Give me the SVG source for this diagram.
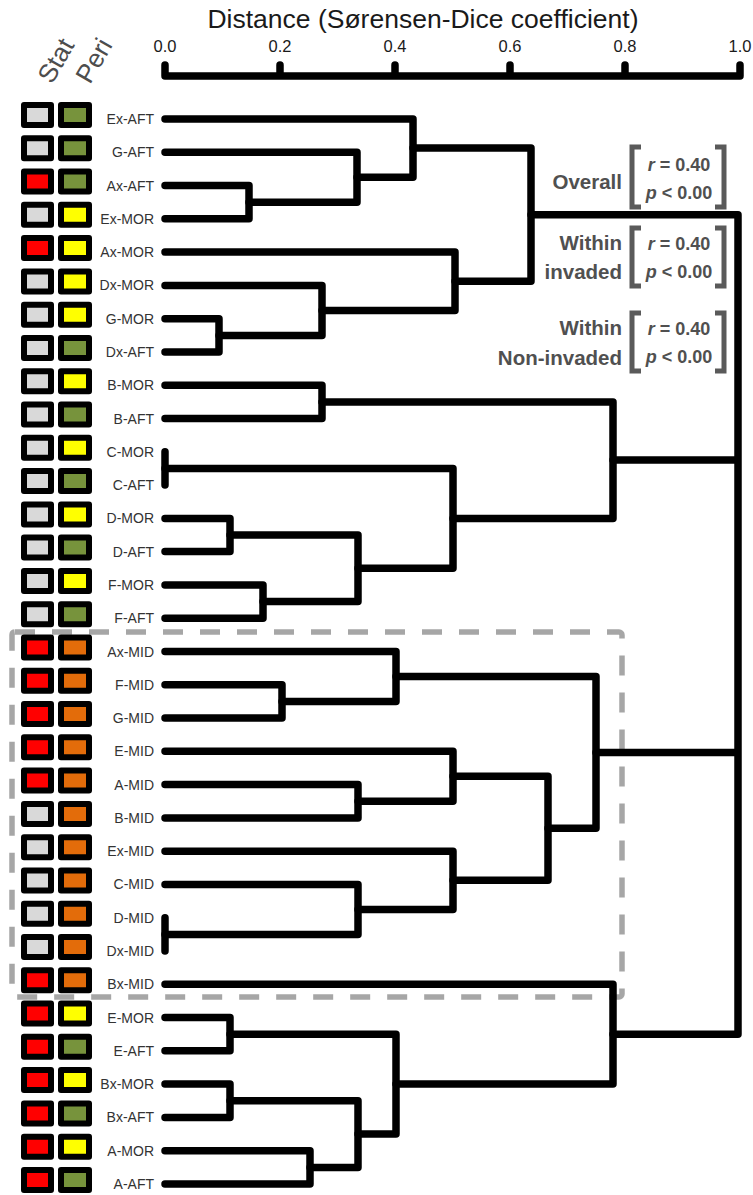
<svg xmlns="http://www.w3.org/2000/svg" width="753" height="1195" viewBox="0 0 753 1195">
<style>
.c{fill:none;stroke:#000;stroke-width:7.5;stroke-linecap:round;stroke-linejoin:round}
.b{stroke:#000;stroke-width:6;stroke-linejoin:round}
.gy{fill:#d9d9d9}.rd{fill:#ff0000}.gn{fill:#77933c}.yl{fill:#ffff00}.or{fill:#e36c0a}
.lb{font-family:"Liberation Sans",Arial,sans-serif;font-size:14px;fill:#333;text-anchor:end}
.ax{font-family:"Liberation Sans",Arial,sans-serif;font-size:16.5px;fill:#1a1a1a;text-anchor:middle}
.hd{font-family:"Liberation Sans",Arial,sans-serif;font-size:26px;fill:#4d4d4d}
.st{font-family:"Liberation Sans",Arial,sans-serif;font-size:20.5px;font-weight:bold;fill:#505050;text-anchor:end}
.sv{font-family:"Liberation Sans",Arial,sans-serif;font-size:18px;font-weight:bold;fill:#505050;text-anchor:middle}
.br{fill:none;stroke:#5a5a5a;stroke-width:5}
</style>
<rect id="mid-box" x="12" y="632" width="610" height="365" rx="3" fill="none" stroke="#a6a6a6" stroke-width="5.5" stroke-dasharray="20 17"/>
<g id="axis">
<text x="423" y="28" font-family="Liberation Sans, Arial, sans-serif" font-size="26.5" fill="#1a1a1a" text-anchor="middle">Distance (Sørensen-Dice coefficient)</text>
<text class="ax" x="165" y="52">0.0</text><text class="ax" x="280" y="52">0.2</text><text class="ax" x="395" y="52">0.4</text><text class="ax" x="510" y="52">0.6</text><text class="ax" x="625" y="52">0.8</text><text class="ax" x="740" y="52">1.0</text>
<path class="c" d="M165 65V76H740V65M280 65V76M395 65V76M510 65V76M625 65V76"/>
</g>
<g id="headers">
<text class="hd" transform="translate(52,85) rotate(-60)">Stat</text>
<text class="hd" transform="translate(90,85) rotate(-60)">Peri</text>
</g>
<g id="connectors">
<path class="c" d="M165 185.6H249V218.8H165"/>
<path class="c" d="M165 152.3H357V202.2H249"/>
<path class="c" d="M165 119H413V177.3H357"/>
<path class="c" d="M165 318.7H219V352H165"/>
<path class="c" d="M165 285.4H322V335.4H219"/>
<path class="c" d="M165 252.1H455V310.4H322"/>
<path class="c" d="M413 148.1H531V281.3H455"/>
<path class="c" d="M165 385.2H322V418.5H165"/>
<path class="c" d="M165 451.8V485.1"/>
<path class="c" d="M165 518.4H230V551.6H165"/>
<path class="c" d="M165 584.9H263V618.2H165"/>
<path class="c" d="M230 535H358V601.6H263"/>
<path class="c" d="M165 468.5H453V568.3H358"/>
<path class="c" d="M322 401.9H613V518.4H453"/>
<path class="c" d="M165 684.8H282V718H165"/>
<path class="c" d="M165 651.5H396V701.4H282"/>
<path class="c" d="M165 784.6H358V817.9H165"/>
<path class="c" d="M165 751.3H453V801.3H358"/>
<path class="c" d="M165 917.7V951"/>
<path class="c" d="M165 884.4H358V934.4H165"/>
<path class="c" d="M165 851.2H453V909.4H358"/>
<path class="c" d="M453 776.3H548V880.3H453"/>
<path class="c" d="M396 676.5H596V828.3H548"/>
<path class="c" d="M165 1017.6H230V1050.8H165"/>
<path class="c" d="M165 1084.1H230V1117.4H165"/>
<path class="c" d="M165 1150.7H310V1184H165"/>
<path class="c" d="M230 1100.8H358V1167.4H310"/>
<path class="c" d="M230 1034.2H396V1134.1H358"/>
<path class="c" d="M165 984.3H613V1084.1H396"/>
<path class="c" d="M531 214.7H738V1034.2H613M613 460.1H738M596 752.4H738"/>
</g>
<g id="leaf-Ex-AFT"><rect class="b gy" x="24" y="105" width="27" height="20"/><rect class="b gn" x="61" y="105" width="28" height="20"/><text class="lb" x="154" y="124">Ex-AFT</text></g>
<g id="leaf-G-AFT"><rect class="b gy" x="24" y="138.3" width="27" height="20"/><rect class="b gn" x="61" y="138.3" width="28" height="20"/><text class="lb" x="154" y="157.3">G-AFT</text></g>
<g id="leaf-Ax-AFT"><rect class="b rd" x="24" y="171.6" width="27" height="20"/><rect class="b gn" x="61" y="171.6" width="28" height="20"/><text class="lb" x="154" y="190.6">Ax-AFT</text></g>
<g id="leaf-Ex-MOR"><rect class="b gy" x="24" y="204.8" width="27" height="20"/><rect class="b yl" x="61" y="204.8" width="28" height="20"/><text class="lb" x="154" y="223.8">Ex-MOR</text></g>
<g id="leaf-Ax-MOR"><rect class="b rd" x="24" y="238.1" width="27" height="20"/><rect class="b yl" x="61" y="238.1" width="28" height="20"/><text class="lb" x="154" y="257.1">Ax-MOR</text></g>
<g id="leaf-Dx-MOR"><rect class="b gy" x="24" y="271.4" width="27" height="20"/><rect class="b yl" x="61" y="271.4" width="28" height="20"/><text class="lb" x="154" y="290.4">Dx-MOR</text></g>
<g id="leaf-G-MOR"><rect class="b gy" x="24" y="304.7" width="27" height="20"/><rect class="b yl" x="61" y="304.7" width="28" height="20"/><text class="lb" x="154" y="323.7">G-MOR</text></g>
<g id="leaf-Dx-AFT"><rect class="b gy" x="24" y="338" width="27" height="20"/><rect class="b gn" x="61" y="338" width="28" height="20"/><text class="lb" x="154" y="357">Dx-AFT</text></g>
<g id="leaf-B-MOR"><rect class="b gy" x="24" y="371.2" width="27" height="20"/><rect class="b yl" x="61" y="371.2" width="28" height="20"/><text class="lb" x="154" y="390.2">B-MOR</text></g>
<g id="leaf-B-AFT"><rect class="b gy" x="24" y="404.5" width="27" height="20"/><rect class="b gn" x="61" y="404.5" width="28" height="20"/><text class="lb" x="154" y="423.5">B-AFT</text></g>
<g id="leaf-C-MOR"><rect class="b gy" x="24" y="437.8" width="27" height="20"/><rect class="b yl" x="61" y="437.8" width="28" height="20"/><text class="lb" x="154" y="456.8">C-MOR</text></g>
<g id="leaf-C-AFT"><rect class="b gy" x="24" y="471.1" width="27" height="20"/><rect class="b gn" x="61" y="471.1" width="28" height="20"/><text class="lb" x="154" y="490.1">C-AFT</text></g>
<g id="leaf-D-MOR"><rect class="b gy" x="24" y="504.4" width="27" height="20"/><rect class="b yl" x="61" y="504.4" width="28" height="20"/><text class="lb" x="154" y="523.4">D-MOR</text></g>
<g id="leaf-D-AFT"><rect class="b gy" x="24" y="537.6" width="27" height="20"/><rect class="b gn" x="61" y="537.6" width="28" height="20"/><text class="lb" x="154" y="556.6">D-AFT</text></g>
<g id="leaf-F-MOR"><rect class="b gy" x="24" y="570.9" width="27" height="20"/><rect class="b yl" x="61" y="570.9" width="28" height="20"/><text class="lb" x="154" y="589.9">F-MOR</text></g>
<g id="leaf-F-AFT"><rect class="b gy" x="24" y="604.2" width="27" height="20"/><rect class="b gn" x="61" y="604.2" width="28" height="20"/><text class="lb" x="154" y="623.2">F-AFT</text></g>
<g id="leaf-Ax-MID"><rect class="b rd" x="24" y="637.5" width="27" height="20"/><rect class="b or" x="61" y="637.5" width="28" height="20"/><text class="lb" x="154" y="656.5">Ax-MID</text></g>
<g id="leaf-F-MID"><rect class="b rd" x="24" y="670.8" width="27" height="20"/><rect class="b or" x="61" y="670.8" width="28" height="20"/><text class="lb" x="154" y="689.8">F-MID</text></g>
<g id="leaf-G-MID"><rect class="b rd" x="24" y="704" width="27" height="20"/><rect class="b or" x="61" y="704" width="28" height="20"/><text class="lb" x="154" y="723">G-MID</text></g>
<g id="leaf-E-MID"><rect class="b rd" x="24" y="737.3" width="27" height="20"/><rect class="b or" x="61" y="737.3" width="28" height="20"/><text class="lb" x="154" y="756.3">E-MID</text></g>
<g id="leaf-A-MID"><rect class="b rd" x="24" y="770.6" width="27" height="20"/><rect class="b or" x="61" y="770.6" width="28" height="20"/><text class="lb" x="154" y="789.6">A-MID</text></g>
<g id="leaf-B-MID"><rect class="b gy" x="24" y="803.9" width="27" height="20"/><rect class="b or" x="61" y="803.9" width="28" height="20"/><text class="lb" x="154" y="822.9">B-MID</text></g>
<g id="leaf-Ex-MID"><rect class="b gy" x="24" y="837.2" width="27" height="20"/><rect class="b or" x="61" y="837.2" width="28" height="20"/><text class="lb" x="154" y="856.2">Ex-MID</text></g>
<g id="leaf-C-MID"><rect class="b gy" x="24" y="870.4" width="27" height="20"/><rect class="b or" x="61" y="870.4" width="28" height="20"/><text class="lb" x="154" y="889.4">C-MID</text></g>
<g id="leaf-D-MID"><rect class="b gy" x="24" y="903.7" width="27" height="20"/><rect class="b or" x="61" y="903.7" width="28" height="20"/><text class="lb" x="154" y="922.7">D-MID</text></g>
<g id="leaf-Dx-MID"><rect class="b gy" x="24" y="937" width="27" height="20"/><rect class="b or" x="61" y="937" width="28" height="20"/><text class="lb" x="154" y="956">Dx-MID</text></g>
<g id="leaf-Bx-MID"><rect class="b rd" x="24" y="970.3" width="27" height="20"/><rect class="b or" x="61" y="970.3" width="28" height="20"/><text class="lb" x="154" y="989.3">Bx-MID</text></g>
<g id="leaf-E-MOR"><rect class="b rd" x="24" y="1003.6" width="27" height="20"/><rect class="b yl" x="61" y="1003.6" width="28" height="20"/><text class="lb" x="154" y="1022.6">E-MOR</text></g>
<g id="leaf-E-AFT"><rect class="b rd" x="24" y="1036.8" width="27" height="20"/><rect class="b gn" x="61" y="1036.8" width="28" height="20"/><text class="lb" x="154" y="1055.8">E-AFT</text></g>
<g id="leaf-Bx-MOR"><rect class="b rd" x="24" y="1070.1" width="27" height="20"/><rect class="b yl" x="61" y="1070.1" width="28" height="20"/><text class="lb" x="154" y="1089.1">Bx-MOR</text></g>
<g id="leaf-Bx-AFT"><rect class="b rd" x="24" y="1103.4" width="27" height="20"/><rect class="b gn" x="61" y="1103.4" width="28" height="20"/><text class="lb" x="154" y="1122.4">Bx-AFT</text></g>
<g id="leaf-A-MOR"><rect class="b rd" x="24" y="1136.7" width="27" height="20"/><rect class="b yl" x="61" y="1136.7" width="28" height="20"/><text class="lb" x="154" y="1155.7">A-MOR</text></g>
<g id="leaf-A-AFT"><rect class="b rd" x="24" y="1170" width="27" height="20"/><rect class="b gn" x="61" y="1170" width="28" height="20"/><text class="lb" x="154" y="1189">A-AFT</text></g>
<g id="stat-overall">
<text class="st" x="622" y="189">Overall</text>
<path class="br" d="M641 147H632V207H641M715 147H724V207H715"/>
<text class="sv" x="679" y="171"><tspan font-style="italic">r</tspan> = 0.40</text>
<text class="sv" x="679" y="199"><tspan font-style="italic">p</tspan> &lt; 0.00</text>
</g>
<g id="stat-invaded">
<text class="st" x="622" y="250">Within</text>
<text class="st" x="622" y="279">invaded</text>
<path class="br" d="M641 228H632V286H641M715 228H724V286H715"/>
<text class="sv" x="679" y="250"><tspan font-style="italic">r</tspan> = 0.40</text>
<text class="sv" x="679" y="278"><tspan font-style="italic">p</tspan> &lt; 0.00</text>
</g>
<g id="stat-noninvaded">
<text class="st" x="622" y="335">Within</text>
<text class="st" x="622" y="365">Non-invaded</text>
<path class="br" d="M641 313H632V371H641M715 313H724V371H715"/>
<text class="sv" x="679" y="335"><tspan font-style="italic">r</tspan> = 0.40</text>
<text class="sv" x="679" y="363"><tspan font-style="italic">p</tspan> &lt; 0.00</text>
</g>
</svg>
